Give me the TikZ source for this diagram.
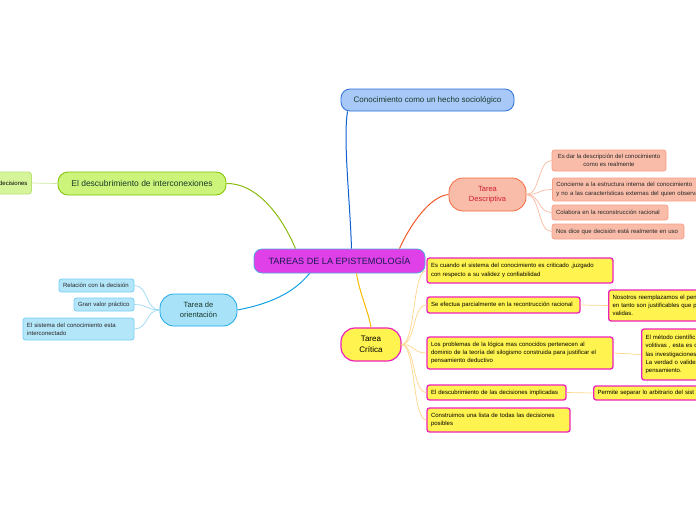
\documentclass[tikz,border=0pt]{standalone}
\usepackage{fontspec}
\setmainfont{Liberation Sans}
\definecolor{rootfill}{HTML}{DF40E8}
\definecolor{rootdraw}{HTML}{4FA8E0}
\definecolor{roottext}{HTML}{1A1A50}
\definecolor{topfill}{HTML}{A8C8F8}
\definecolor{topdraw}{HTML}{2A6FD8}
\definecolor{topline}{HTML}{1060D0}
\definecolor{darktext}{HTML}{1A3A2A}
\definecolor{grfill}{HTML}{CCF47A}
\definecolor{grdraw}{HTML}{80C000}
\definecolor{grline}{HTML}{8CBB10}
\definecolor{grcfill}{HTML}{D6F59A}
\definecolor{grcdraw}{HTML}{B8E070}
\definecolor{grcline}{HTML}{CFE6A0}
\definecolor{orfill}{HTML}{F9BCA8}
\definecolor{ordraw}{HTML}{F46A40}
\definecolor{ortext}{HTML}{D01A30}
\definecolor{orline}{HTML}{F05A28}
\definecolor{orcdraw}{HTML}{F7A088}
\definecolor{orcline}{HTML}{F9B8A0}
\definecolor{blfill}{HTML}{A8E2F8}
\definecolor{bldraw}{HTML}{20A8E8}
\definecolor{blline}{HTML}{10A0E0}
\definecolor{blcfill}{HTML}{B4E6FA}
\definecolor{blcdraw}{HTML}{78CDF2}
\definecolor{blcline}{HTML}{98D8F4}
\definecolor{yefill}{HTML}{FFF34F}
\definecolor{yedraw}{HTML}{EE22BB}
\definecolor{yeline}{HTML}{F8B800}
\definecolor{yecline}{HTML}{FFD58A}
\begin{document}
\begin{tikzpicture}[x=1pt,y=-1pt,
  base/.style={inner sep=0pt, line width=0.8pt},
  small/.style={font=\fontsize{6}{8.3}\selectfont},
  rootbox/.style={base, rounded corners=8pt, fill=rootfill, draw=rootdraw, text=roottext, font=\fontsize{9.1}{10}\selectfont},
  topbox/.style={base, rounded corners=9pt, fill=topfill, draw=topdraw, text=darktext, font=\fontsize{8}{9}\selectfont},
  grbox/.style={base, rounded corners=10pt, fill=grfill, draw=grdraw, text=darktext, font=\fontsize{8.5}{9}\selectfont},
  grcbox/.style={base, small, rounded corners=3pt, fill=grcfill, draw=grcdraw, text=black},
  orbox/.style={base, rounded corners=14pt, fill=orfill, draw=ordraw, text=ortext, align=center, font=\fontsize{7.5}{10.5}\selectfont},
  orcbox/.style={base, small, rounded corners=2.5pt, fill=orfill, draw=orcdraw, text=black!85},
  blbox/.style={base, rounded corners=14pt, fill=blfill, draw=bldraw, text=darktext, align=center, font=\fontsize{7.6}{10.5}\selectfont},
  blcbox/.style={base, small, rounded corners=2.5pt, fill=blcfill, draw=blcdraw, text=black!85},
  yebox/.style={base, line width=1.2pt, rounded corners=14pt, fill=yefill, draw=yedraw, text=black, align=center, font=\fontsize{8}{10.5}\selectfont},
  yecbox/.style={base, small, line width=1.3pt, rounded corners=2.5pt, fill=yefill, draw=yedraw, text=black},
  txtl/.style={align=left, inner xsep=4pt},
  main/.style={line width=1pt},
  sub/.style={line width=0.7pt}
]
\useasboundingbox (0,0) rectangle (696,520);
\clip (0,0) rectangle (696,520);

% root
\node[rootbox, minimum width=171pt, minimum height=24pt] (root) at (339.5,261) {TAREAS DE LA EPISTEMOLOGÍA};

% top blue
\node[topbox, minimum width=173pt, minimum height=22pt] (top) at (427.5,100) {Conocimiento como un hecho sociológico};

% green
\node[grbox, minimum width=168pt, minimum height=23pt] (gr) at (142,183.5) {El descubrimiento de interconexiones};
\node[grcbox, txtl, align=right, text width=73pt, minimum height=22pt] (grc) at (-9,183) {decisiones};

% orange descriptive
\node[orbox, minimum width=77pt, minimum height=33pt] (desc) at (487.5,194.5) {Tarea\\Descriptiva};
\node[orcbox, align=center, minimum width=114pt, minimum height=21pt] (d1) at (609,160.5) {Es dar la descripción del conocimiento\\como es realmente};
\node[orcbox, txtl, text width=160pt, minimum height=23pt, anchor=west] (d2) at (552,189.5) {Concierne a la estructura interna del conocimiento\\y no a las características externas del quien observa};
\node[orcbox, txtl, text width=108pt, minimum height=15pt] (d3) at (610,212.5) {Colabora en la reconstrucción racional};
\node[orcbox, txtl, text width=124pt, minimum height=15pt] (d4) at (618,231.5) {Nos dice que decisión está realmente en uso};

% blue orientation
\node[blbox, minimum width=77pt, minimum height=32pt] (ori) at (198.5,310) {Tarea de\\orientación};
\node[blcbox, txtl, text width=67pt, minimum height=13pt] (o1) at (96.5,285.5) {Relación con la decisión};
\node[blcbox, txtl, text width=52pt, minimum height=13pt] (o2) at (104,304.5) {Gran valor práctico};
\node[blcbox, txtl, text width=103pt, minimum height=22pt] (o3) at (78.5,329) {El sistema del conocimiento esta\\interconectado};

% yellow critic
\node[yebox, minimum width=60pt, minimum height=33pt] (crit) at (371,344.5) {Tarea\\Crítica};
\node[yecbox, txtl, text width=178pt, minimum height=25pt] (c1) at (520,270.5) {Es cuando el sistema del conocimiento es criticado ,juzgado\\con respecto a su validez y confiabilidad};
\node[yecbox, txtl, text width=145pt, minimum height=16pt] (c2) at (503.5,305) {Se efectua parcialmente en la recontrucción racional};
\node[yecbox, txtl, text width=150pt, minimum height=31pt, anchor=west] (c2a) at (608,305.5) {Nosotros reemplazamos el pen\\en tanto son justificables que p\\validas.};
\node[yecbox, txtl, text width=178pt, minimum height=32pt] (c3) at (520,353) {Los problemas de la lógica mas conocidos pertenecen al\\dominio de la teoría del silogismo construida para justificar el\\pensamiento deductivo};
\node[yecbox, txtl, text width=150pt, minimum height=51pt, anchor=west] (c3a) at (641,354.5) {El método científic\\volitivas , esta es d\\las investigaciones\\La verdad o validez\\pensamiento.};
\node[yecbox, txtl, text width=131pt, minimum height=15pt] (c4) at (496.5,392.5) {El descubrimiento de las decisiones implicadas};
\node[yecbox, txtl, text width=150pt, minimum height=14pt, anchor=west] (c4a) at (593,393) {Permite separar lo arbitrario del sist};
\node[yecbox, txtl, text width=135pt, minimum height=24pt] (c5) at (498.5,420) {Construimos una lista de todas las decisiones\\posibles};

% main connectors
\draw[main, topline] ([xshift=12pt]root.north) .. controls (350,200) and (343,140) .. ([xshift=-80pt]top.south);
\draw[main, grline] ([xshift=-44pt]root.north) .. controls (280,212) and (255,183) .. (gr.east);
\draw[main, orline] ([xshift=60pt]root.north) .. controls (410,225) and (430,196) .. (desc.west);
\draw[main, blline] ([xshift=-30pt]root.south) .. controls (290,298) and (258,306) .. (ori.east);
\draw[main, yeline] ([xshift=17pt]root.south) .. controls (360,295) and (368,310) .. (crit.north);

% sub connectors
\draw[sub, grcline] (gr.west) -- (grc.east);
\foreach \n in {d1,d2,d3,d4}
  \draw[sub, orcline] (desc.east) .. controls +(14,0) and +(-14,0) .. (\n.west);
\foreach \n in {o1,o2,o3}
  \draw[sub, blcline] (ori.west) .. controls +(-14,0) and +(14,0) .. (\n.east);
\foreach \n in {c1,c2,c3,c4,c5}
  \draw[sub, yecline] (crit.east) .. controls +(14,0) and +(-14,0) .. (\n.west);
\draw[sub, yecline] (c2.east) -- (c2a.west);
\draw[sub, yecline] (c3.east) -- (c3a.west);
\draw[sub, yecline] (c4.east) -- (c4a.west);
\end{tikzpicture}
\end{document}
